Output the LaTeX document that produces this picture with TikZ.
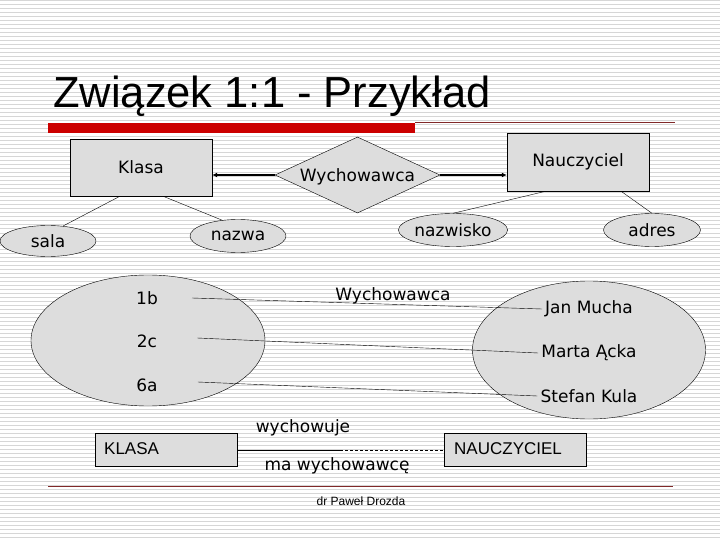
\documentclass[tikz,border=0pt]{standalone}
\usepackage{fontspec}
\setmainfont{DejaVu Sans}
\newfontfamily\arialfont{Liberation Sans}
\usetikzlibrary{shapes.geometric,arrows.meta}

\definecolor{stripegray}{RGB}{214,214,214}
\definecolor{boxgray}{RGB}{221,221,221}
\definecolor{barred}{RGB}{204,0,0}
\definecolor{linered}{RGB}{128,40,40}

\begin{document}
\begin{tikzpicture}[x=1pt, y=-1pt,
    lbl/.style={font=\fontsize{17}{20}\selectfont, inner sep=0pt},
    entity/.style={draw, fill=boxgray, rectangle, minimum width=142pt, minimum height=57pt},
    attr/.style={draw, fill=boxgray, ellipse, inner sep=0pt, minimum width=96pt, minimum height=33pt,
        font=\fontsize{17}{20}\selectfont},
    relarrow/.style={line width=2pt, -{Latex[length=5pt,width=5pt]}},
    smallbox/.style={draw, fill=boxgray, rectangle, minimum width=142pt, minimum height=33pt}]
        \useasboundingbox (0,0) rectangle (720,540);
        % ==== BACKGROUND ====
        \fill[white] (0,0) rectangle (720,540);
        \foreach \y in {1,5,...,537}
            \draw[stripegray, line width=1pt] (0,\y) -- (720,\y);
        % ==== TITLE ====
        \node[anchor=base west, inner sep=0pt, font=\arialfont\fontsize{43.5}{50}\selectfont] (title) at (53,108) {Związek 1:1 - Przykład};
        \fill[barred] (48,123) rectangle (415,133);
        \draw[linered, line width=1pt] (415,123) -- (675,123);

        % ==== ER DIAGRAM ====
        \node[entity, font=\fontsize{17}{20}\selectfont] (klasa) at (141,167.5) {Klasa};
        \node[entity, minimum height=58pt, font=\fontsize{17}{20}\selectfont] (naucz) at (578,162) {Nauczyciel};
        \node[diamond, draw, fill=boxgray, inner sep=0pt, aspect=2.17, minimum width=165pt, minimum height=76pt,
            font=\fontsize{17}{20}\selectfont] (wych) at (357.5,175) {};
        \node[lbl] (wychtxt) at (357.5,177) {Wychowawca};
        \draw[relarrow] (wych.west) -- (wych.west -| klasa.east);
        \draw[relarrow] (wych.east) -- (wych.east -| naucz.west);

        \node[attr, minimum height=31pt] (sala) at (48,241) {sala};
        \node[attr] (nazwa) at (238,236) {nazwa};
        \node[attr, minimum width=97pt] (nazwisko) at (453,230) {nazwisko};
        \node[attr, minimum width=97pt] (adres) at (652,230) {adres};
        \draw ([xshift=-21pt]klasa.south) -- (sala.45);
        \draw ([xshift=22pt]klasa.south) -- (nazwa.135);
        \draw ([xshift=-32pt]naucz.south) -- (nazwisko.north);
        \draw ([xshift=43pt]naucz.south) -- (adres.north);

        % ==== INSTANCES ====
        \draw[fill=boxgray] (148,340.5) ellipse (117 and 65.5);
        \draw[fill=boxgray] (589,350) ellipse (116.5 and 69);
        \node[lbl] (b1) at (147,298) {1b};
        \node[lbl] (c2) at (147,341) {2c};
        \node[lbl] (a6) at (147,385) {6a};
        \node[lbl] (mucha) at (589,309) {Jan Mucha};
        \node[lbl] (acka) at (589,353) {Marta Ącka};
        \node[lbl] (kula) at (589,396) {Stefan Kula};
        \node[lbl] (wychlbl) at (393,296) {Wychowawca};
        \draw ([xshift=34pt]b1.east) -- ([xshift=-3pt]mucha.west);
        \draw ([xshift=40pt, yshift=3pt]c2.east) -- ([xshift=-3pt]acka.west);
        \draw ([xshift=40pt, yshift=3pt]a6.east) -- ([xshift=-3pt]kula.west);

        % ==== SHORT NOTATION ====
        \node[smallbox] (klasaB) at (166,449.5) {};
        \node[smallbox] (nauczB) at (515,449.5) {};
        \node[anchor=west, inner sep=0pt, font=\arialfont\fontsize{17}{20}\selectfont] at (104,449) {KLASA};
        \node[anchor=west, inner sep=0pt, font=\arialfont\fontsize{17}{20}\selectfont] at (454,449) {NAUCZYCIEL};
        \coordinate (mid) at (340,450);
        \draw (klasaB.east |- mid) -- (mid);
        \draw[dashed, dash pattern=on 3pt off 2pt] (mid) -- (nauczB.west |- mid);
        \node[lbl] (wychuje) at (303,428) {wychowuje};
        \node[lbl] (mawych) at (337,466) {ma wychowawcę};

        % ==== FOOTER ====
        \draw[linered, line width=1pt] (48,486) -- (673,486);
        \node[inner sep=0pt, font=\arialfont\fontsize{12}{14}\selectfont] (autor) at (361,501) {dr Paweł Drozda};
     \end{tikzpicture}
\end{document}
